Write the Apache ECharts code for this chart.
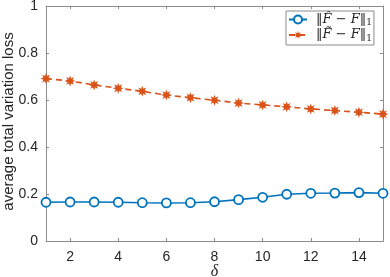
<!DOCTYPE html>
<html><head><meta charset="utf-8">
<script src="https://cdn.jsdelivr.net/npm/echarts@6/dist/echarts.min.js"></script>
<style>html,body{margin:0;padding:0;background:#fff}#c{width:390px;height:277px}</style>
</head><body><div id="c"></div>
<script>
const deltas = [1,2,3,4,5,6,7,8,9,10,11,12,13,14,15];
const hatLoss = [0.165,0.166,0.166,0.165,0.163,0.162,0.163,0.167,0.176,0.186,0.199,0.203,0.204,0.206,0.203];
const tildeLoss = [0.691,0.681,0.664,0.650,0.637,0.621,0.610,0.599,0.587,0.579,0.571,0.562,0.555,0.548,0.540];
const xTicks = [2,4,6,8,10,12,14];
const yTicks = [0,0.2,0.4,0.6,0.8,1];
const seriesNames = ['hat','tilde'];

const star = 'path://M20,10L14.6,11.9L17.07,17.07L11.9,14.6L10,20L8.1,14.6L2.93,17.07L5.4,11.9L0,10L5.4,8.1L2.93,2.93L8.1,5.4L10,0L11.9,5.4L17.07,2.93L14.6,8.1Z';
const axisCol = '#8c8c8c';
const txtCol = '#262626';
const font = 'Liberation Sans, Arial, sans-serif';

const chart = echarts.init(document.getElementById('c'), null, {renderer:'canvas'});
const xBase = {type:'value', min:1, max:15,
  axisLine:{show:true, onZero:false, lineStyle:{color:axisCol, width:1}},
  axisTick:{show:true, inside:true, length:3, customValues:xTicks, lineStyle:{color:axisCol}},
  splitLine:{show:false}};
const yBase = {type:'value', min:0, max:1, interval:0.2,
  axisLine:{show:true, onZero:false, lineStyle:{color:axisCol, width:1}},
  axisTick:{show:true, inside:true, length:3, lineStyle:{color:axisCol}},
  splitLine:{show:false}};
chart.setOption({
  animation:false,
  backgroundColor:'#fff',
  grid:{left:46, right:7, top:6, bottom:36, containLabel:false, outerBoundsMode:'none'},
  xAxis:[
    Object.assign({}, xBase, {position:'bottom',
      name:'δ', nameLocation:'middle', nameGap:23, nameMoveOverlap:false,
      nameTextStyle:{fontFamily:'Liberation Serif, serif', fontStyle:'italic', fontSize:16, color:txtCol},
      axisLabel:{show:true, customValues:xTicks, margin:9, fontSize:14, color:txtCol, fontFamily:font}}),
    Object.assign({}, xBase, {position:'top', axisLabel:{show:false}})
  ],
  yAxis:[
    Object.assign({}, yBase, {position:'left',
      name:'average total variation loss', nameLocation:'middle', nameGap:30, nameMoveOverlap:false,
      nameTextStyle:{fontSize:15, color:txtCol, fontFamily:font, padding:[0,0,0,4]},
      axisLabel:{show:true, margin:8, fontSize:14, color:txtCol, fontFamily:font,
        formatter: v => (v===0||v===1) ? String(v) : v.toFixed(1)}}),
    Object.assign({}, yBase, {position:'right', axisLabel:{show:false}})
  ],
  legend:{
    left:286, top:11, orient:'vertical', itemGap:1, itemWidth:18, itemHeight:10,
    padding:[2,2,2,2], borderColor:'#8c8c8c', borderWidth:1, backgroundColor:'#fff',
    data:seriesNames,
    formatter: n => n==='hat' ? '{p|}{b|‖}{i|F̂}{b| − }{i|F}{b|‖}{s|1}' : '{p|}{b|‖}{i|F̃}{b| − }{i|F}{b|‖}{s|1}',
    textStyle:{rich:{
      p:{width:4},
      b:{fontFamily:'DejaVu Serif, serif', fontSize:13, color:txtCol},
      i:{fontFamily:'DejaVu Serif, serif', fontStyle:'italic', fontSize:13, color:txtCol},
      s:{fontFamily:'DejaVu Serif, serif', fontSize:9, color:txtCol, padding:[7,0,0,0]}
    }}
  },
  series:[
    {name:'hat', type:'line', data:deltas.map((d,i)=>[d,hatLoss[i]]),
      symbol:'circle', symbolSize:9, showAllSymbol:true,
      lineStyle:{color:'#0072BD', width:1.6},
      itemStyle:{color:'#fff', borderColor:'#0072BD', borderWidth:1.8}},
    {name:'tilde', type:'line', data:deltas.map((d,i)=>[d,tildeLoss[i]]),
      symbol:star, symbolSize:11, showAllSymbol:true,
      lineStyle:{color:'#D95319', width:1.6, type:[6,4]},
      itemStyle:{color:'#D95319', borderWidth:0}}
  ]
});
</script></body></html>
